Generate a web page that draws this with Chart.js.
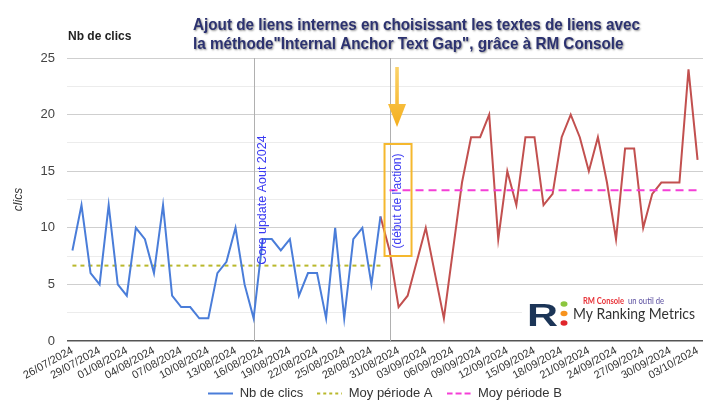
<!DOCTYPE html>
<html>
<head>
<meta charset="utf-8">
<script src="https://cdn.jsdelivr.net/npm/chart.js@4"></script>
<style>
  body { margin: 0; background: #fff; }
  #wrap { width: 710px; height: 405px; }
</style>
</head>
<body>
<div id="wrap"><canvas id="myChart" width="710" height="405"></canvas></div>
<script>
// un point par jour
const dates = [
  '26/07/2024','27/07/2024','28/07/2024','29/07/2024','30/07/2024','31/07/2024',
  '01/08/2024','02/08/2024','03/08/2024','04/08/2024','05/08/2024','06/08/2024','07/08/2024','08/08/2024',
  '09/08/2024','10/08/2024','11/08/2024','12/08/2024','13/08/2024','14/08/2024','15/08/2024','16/08/2024',
  '17/08/2024','18/08/2024','19/08/2024','20/08/2024','21/08/2024','22/08/2024','23/08/2024','24/08/2024',
  '25/08/2024','26/08/2024','27/08/2024','28/08/2024','29/08/2024','30/08/2024','31/08/2024',
  '01/09/2024','02/09/2024','03/09/2024','04/09/2024','05/09/2024','06/09/2024','07/09/2024','08/09/2024',
  '09/09/2024','10/09/2024','11/09/2024','12/09/2024','13/09/2024','14/09/2024','15/09/2024','16/09/2024',
  '17/09/2024','18/09/2024','19/09/2024','20/09/2024','21/09/2024','22/09/2024','23/09/2024','24/09/2024',
  '25/09/2024','26/09/2024','27/09/2024','28/09/2024','29/09/2024','30/09/2024',
  '01/10/2024','02/10/2024','03/10/2024'
];
const clics = [
  8,12,6,5,12,5,4,10,9,6,12,4,3,3,2,2,6,7,10,5,2,9,9,8,9,4,6,6,2,10,2,9,10,5,11,
  8,3,4,7,10,6,2,8,14,18,18,20,9,15,12,18,18,12,13,18,20,18,15,18,14,9,17,17,10,13,14,14,14,24,16
];
const finA = 34;        // dernier jour periode A (bleu), depart du trait rouge
const debutB = 35;      // debut de l'action
const moyA = 6.66;
const moyB = 13.31;
const coreUpdate = 20;  // ligne verticale "Core update"
const yTicks = [0, 5, 10, 15, 20, 25];
const titre = [
  'Ajout de liens internes en choisissant les textes de liens avec',
  'la méthode"Internal Anchor Text Gap", grâce à RM Console'
];

const pts = (from, to) => clics.slice(from, to + 1).map((v, i) => ({x: from + i, y: v}));

// petit trait pour la legende (avec pointilles)
function trait(color, dash) {
  const c = document.createElement('canvas');
  c.width = 25; c.height = 4;
  const g = c.getContext('2d');
  g.strokeStyle = color;
  g.lineWidth = 2;
  g.setLineDash(dash);
  g.beginPath(); g.moveTo(0, 2); g.lineTo(25, 2); g.stroke();
  return c;
}

const decor = {
  id: 'decor',
  afterLayout(chart) {
    // remonte la legende (les labels de l'axe x prennent la place)
    chart.legend.top -= 7;
    chart.legend.bottom -= 7;
  },
  beforeDatasetsDraw(chart) {
    const {ctx, chartArea, scales: {x}} = chart;
    ctx.save();
    ctx.strokeStyle = '#b0b0b0';
    ctx.lineWidth = 1;
    [coreUpdate, debutB].forEach(i => {
      const px = Math.round(x.getPixelForValue(i)) + 0.5;
      ctx.beginPath();
      ctx.moveTo(px, chartArea.top);
      ctx.lineTo(px, chartArea.bottom);
      ctx.stroke();
    });
    ctx.restore();
  },
  afterDatasetsDraw(chart) {
    const {ctx, scales: {x}} = chart;
    ctx.save();
    // core update
    let px = x.getPixelForValue(coreUpdate);
    ctx.fillStyle = '#3a3af2';
    ctx.font = '12.5px "Liberation Sans"';
    ctx.textAlign = 'center';
    ctx.textBaseline = 'middle';
    ctx.save();
    ctx.translate(px + 9, 200);
    ctx.rotate(-Math.PI / 2);
    ctx.fillText('Core update Aout 2024', 0, 0);
    ctx.restore();

    // debut de l'action
    px = x.getPixelForValue(debutB);
    ctx.strokeStyle = '#f5b82e';
    ctx.lineWidth = 2;
    ctx.strokeRect(px - 5, 144, 27, 112);
    ctx.font = '12px "Liberation Sans"';
    ctx.save();
    ctx.translate(px + 8.5, 201);
    ctx.rotate(-Math.PI / 2);
    ctx.fillText("(début de l'action)", 0, 0);
    ctx.restore();

    // fleche
    const ax = px + 7.5;
    const g = ctx.createLinearGradient(0, 66, 0, 128);
    g.addColorStop(0, '#fbd36a');
    g.addColorStop(1, '#f4ae1c');
    ctx.fillStyle = g;
    ctx.fillRect(ax - 1.8, 67, 3.6, 42);
    ctx.beginPath();
    ctx.moveTo(ax - 9, 104);
    ctx.lineTo(ax + 9, 104);
    ctx.lineTo(ax, 127);
    ctx.closePath();
    ctx.fill();

    // logo
    ctx.fillStyle = '#fff';
    ctx.fillRect(522, 291, 181, 42);
    ctx.textAlign = 'left';
    ctx.textBaseline = 'alphabetic';
    ctx.fillStyle = '#1c3557';
    ctx.font = 'bold 32px "Liberation Sans"';
    ctx.save();
    ctx.translate(527, 326);
    ctx.scale(31 / ctx.measureText('R').width, 1);
    ctx.fillText('R', 0, 0);
    ctx.restore();
    [['#8cc63f', 304], ['#f7931e', 313.5], ['#e0262b', 323]].forEach(d => {
      ctx.fillStyle = d[0];
      ctx.beginPath();
      ctx.ellipse(564, d[1], 3.5, 2.8, 0, 0, Math.PI * 2);
      ctx.fill();
    });
    ctx.font = 'bold 8.5px Lato';
    ctx.fillStyle = '#e8343a';
    ctx.save();
    ctx.translate(583, 303.5);
    ctx.scale(41 / ctx.measureText('RM Console').width, 1);
    ctx.fillText('RM Console', 0, 0);
    ctx.restore();
    ctx.font = '8.5px Lato';
    ctx.fillStyle = '#5b4fa0';
    ctx.save();
    ctx.translate(628, 303.5);
    ctx.scale(36 / ctx.measureText('un outil de').width, 1);
    ctx.fillText('un outil de', 0, 0);
    ctx.restore();
    ctx.font = '15px Lato';
    ctx.fillStyle = '#333';
    ctx.save();
    ctx.translate(573, 319);
    ctx.scale(122 / ctx.measureText('My Ranking Metrics').width, 1);
    ctx.fillText('My Ranking Metrics', 0, 0);
    ctx.restore();
    ctx.restore();
  },
  afterDraw(chart) {
    const {ctx} = chart;
    ctx.save();
    ctx.font = 'bold 12px "Liberation Sans"';
    ctx.fillStyle = '#222';
    ctx.fillText('Nb de clics', 68, 36.5);

    ctx.font = 'bold 17px "Liberation Sans"';
    const sx = 447 / ctx.measureText(titre[0]).width;
    ctx.translate(193, 0);
    ctx.scale(sx, 1);
    ctx.shadowColor = 'rgba(0,0,0,0.45)';
    ctx.shadowOffsetX = 1;
    ctx.shadowOffsetY = 1.5;
    ctx.shadowBlur = 2;
    ctx.fillStyle = '#2c3270';
    ctx.fillText(titre[0], 0, 25);
    ctx.fillText(titre[1], 0, 44);
    ctx.restore();
  }
};

new Chart(document.getElementById('myChart'), {
  type: 'line',
  data: {
    datasets: [
      {
        label: 'Nb de clics',
        data: pts(0, finA),
        borderColor: '#4a7dd9',
        backgroundColor: '#4a7dd9',
        borderWidth: 2,
        pointRadius: 0,
        pointStyle: trait('#4a7dd9', []),
        tension: 0
      },
      {
        label: 'Moy période A',
        data: [{x: 0, y: moyA}, {x: finA, y: moyA}],
        borderColor: '#b9b82c',
        backgroundColor: '#b9b82c',
        borderWidth: 2,
        borderDash: [4, 4],
        pointRadius: 0,
        pointStyle: trait('#b9b82c', [3, 3])
      },
      {
        label: 'Moy période B',
        data: [{x: debutB, y: moyB}, {x: clics.length - 1, y: moyB}],
        borderColor: '#f43fd6',
        backgroundColor: '#f43fd6',
        borderWidth: 2,
        borderDash: [8, 5],
        pointRadius: 0,
        pointStyle: trait('#f43fd6', [6, 3])
      },
      {
        label: 'B',
        data: pts(finA, clics.length - 1),
        borderColor: '#c2504f',
        backgroundColor: '#c2504f',
        borderWidth: 2,
        pointRadius: 0,
        tension: 0
      }
    ]
  },
  options: {
    responsive: false,
    animation: false,
    devicePixelRatio: 1,
    layout: {padding: {top: 58, right: 7, left: 0, bottom: -12}},
    scales: {
      x: {
        type: 'linear',
        min: -0.6,
        max: clics.length - 1 + 0.6,
        afterBuildTicks: s => {
          s.ticks = dates.map((d, i) => i).filter(i => i % 3 === 0).map(i => ({value: i}));
        },
        afterFit: s => { s.height = 39; },
        grid: {display: false, drawTicks: false},
        border: {display: false},
        ticks: {
          autoSkip: false,
          minRotation: 29,
          maxRotation: 29,
          padding: 3,
          color: '#333',
          font: {family: 'Liberation Sans', size: 11},
          callback: v => dates[v]
        }
      },
      y: {
        min: 0,
        max: 25,
        afterFit: s => { s.width = 67; },
        afterBuildTicks: s => {
          s.ticks = [];
          for (let v = 0; v <= 25; v += 2.5) s.ticks.push({value: v});
        },
        border: {display: false},
        grid: {
          drawTicks: false,
          color: c => c.tick.value === 0 ? '#555' : (yTicks.includes(c.tick.value) ? '#cfcfcf' : '#ececec'),
          lineWidth: c => c.tick.value === 0 ? 1.5 : 1
        },
        ticks: {
          padding: 12,
          color: '#444',
          font: {family: 'Liberation Sans', size: 13},
          callback: v => yTicks.includes(v) ? v : ''
        },
        title: {
          display: true,
          text: 'clics',
          color: '#333',
          padding: {top: 11, bottom: 0},
          font: {family: 'Liberation Sans', size: 12, style: 'italic'}
        }
      }
    },
    plugins: {
      legend: {
        position: 'bottom',
        fullSize: false,
        labels: {
          filter: item => item.datasetIndex < 3,
          usePointStyle: true,
          pointStyleWidth: 25,
          boxHeight: 13,
          padding: 14,
          color: '#333',
          font: {family: 'Liberation Sans', size: 13}
        }
      },
      tooltip: {enabled: false}
    }
  },
  plugins: [decor]
});
</script>
</body>
</html>
